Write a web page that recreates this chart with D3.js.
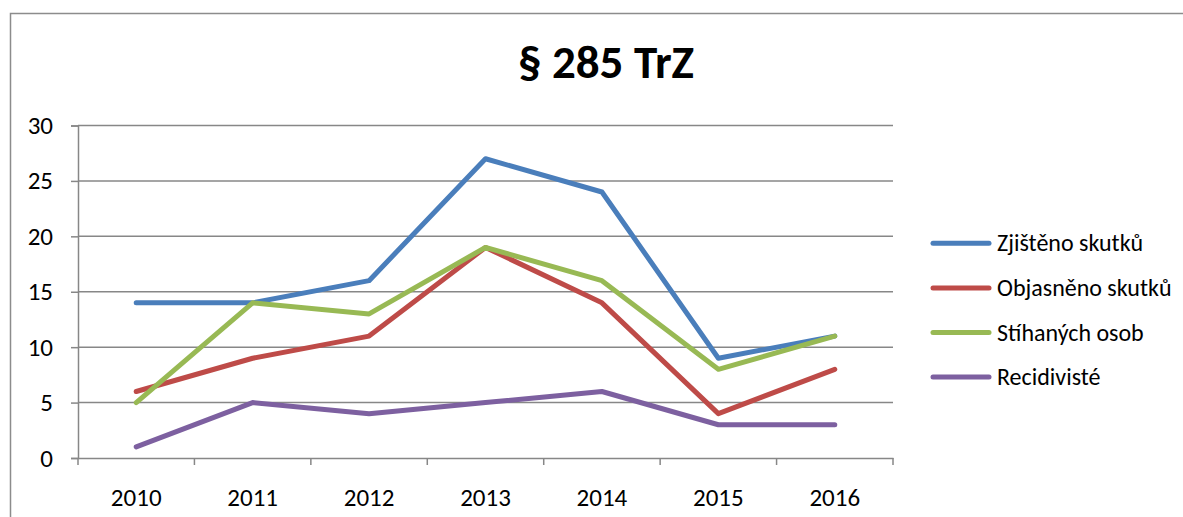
<!DOCTYPE html>
<html><head><meta charset="utf-8">
<script src="https://cdn.jsdelivr.net/npm/d3@7"></script>
<style>html,body{margin:0;background:#fff;overflow:hidden}svg{display:block}text{font-family:Carlito,Lato,"Open Sans",sans-serif}</style>
</head><body><svg id="c" width="1183" height="517"></svg>
<script>
const years = ["2010","2011","2012","2013","2014","2015","2016"];
const seriesNames = ["Zjištěno skutků","Objasněno skutků","Stíhaných osob","Recidivisté"];
const zjisteno = [14,14,16,27,24,9,11];
const objasneno = [6,9,11,19,14,4,8];
const stihanych = [5,14,13,19,16,8,11];
const recidiviste = [1,5,4,5,6,3,3];
const yTicks = [0,5,10,15,20,25,30];
const colors = ["#4A7EBB","#BE4B48","#98B954","#7D60A0"];
const seriesValues = [zjisteno, objasneno, stihanych, recidiviste];

const svg = d3.select("#c");
// outer frame
svg.append("rect").attr("x",10.5).attr("y",13.5).attr("width",1250).attr("height",560)
  .attr("fill","none").attr("stroke","#8c8c8c").attr("stroke-width",1.5);

const x = d3.scaleBand().domain(years).range([78,893]).paddingInner(0).paddingOuter(0);
const y = d3.scaleLinear().domain([0,30]).range([458,125.5]);

// gridlines
svg.append("g").selectAll("line").data(yTicks.filter(d=>d>0)).join("line")
  .attr("x1",78).attr("x2",893).attr("y1",d=>y(d)).attr("y2",d=>y(d))
  .attr("stroke","#878787").attr("stroke-width",1.5);

const yAxis = svg.append("g").attr("transform","translate(78,0)")
  .call(d3.axisLeft(y).tickValues(yTicks).tickSize(7).tickPadding(18));
const xAxis = svg.append("g").attr("transform","translate(0,458)")
  .call(d3.axisBottom(x).tickSize(0).tickPadding(30));
// category boundary ticks
const bounds = years.map(d=>x(d)).concat([x.range()[1]]);
svg.append("g").selectAll("line").data(bounds).join("line")
  .attr("x1",d=>d).attr("x2",d=>d).attr("y1",458).attr("y2",465)
  .attr("stroke","#878787").attr("stroke-width",1.5);

[yAxis,xAxis].forEach(a=>{
  a.attr("font-size",25).attr("font-family",null);
  a.select(".domain").attr("stroke","#878787").attr("stroke-width",1.5);
  a.selectAll(".tick line").attr("stroke","#878787").attr("stroke-width",1.5);
  a.selectAll("text").attr("font-size",25).attr("fill","#000");
});

const line = d3.line().x((d,i)=>x(years[i])+x.bandwidth()/2).y(d=>y(d));
svg.append("g").selectAll("path").data(seriesValues).join("path")
  .attr("d",d=>line(d)).attr("fill","none").attr("stroke",(d,i)=>colors[i])
  .attr("stroke-width",5).attr("stroke-linecap","round").attr("stroke-linejoin","round");

// title
svg.append("text").attr("x",606).attr("y",78).attr("text-anchor","middle")
  .attr("font-size",47).attr("font-weight","bold").text("§ 285 TrZ");

// legend
const lg = svg.append("g").selectAll("g").data(seriesNames).join("g")
  .attr("transform",(d,i)=>`translate(0,${243.3+i*44.6})`);
lg.append("line").attr("x1",933).attr("x2",989).attr("y1",0).attr("y2",0)
  .attr("stroke",(d,i)=>colors[i]).attr("stroke-width",5).attr("stroke-linecap","round");
lg.append("text").attr("x",997).attr("y",8).attr("font-size",24).text(d=>d);
</script></body></html>
